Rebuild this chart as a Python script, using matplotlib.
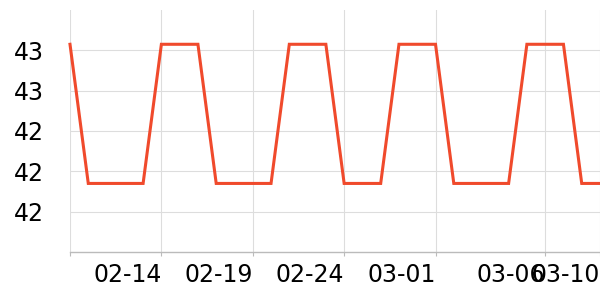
import matplotlib
matplotlib.use("Agg")
import matplotlib.pyplot as plt
from matplotlib.ticker import FormatStrFormatter

# daily values, 02-09 .. 03-10
dates = ["02-09", "02-10", "02-11", "02-12", "02-13", "02-14", "02-15", "02-16",
         "02-17", "02-18", "02-19", "02-20", "02-21", "02-22", "02-23", "02-24",
         "02-25", "02-26", "02-27", "02-28", "03-01", "03-02", "03-03", "03-04",
         "03-05", "03-06", "03-07", "03-08", "03-09", "03-10"]
HI, LO = 42.83, 42.14
values = [HI, LO, LO, LO, LO, HI, HI, HI, LO, LO, LO, LO, HI, HI, HI, LO,
          LO, LO, HI, HI, HI, LO, LO, LO, LO, HI, HI, HI, LO, LO]

tick_idx = [0, 5, 10, 15, 20, 26, 29]
tick_labels = ["", "02-14", "02-19", "02-24", "03-01", "03-06", "03-10"]
y_ticks = [42.0, 42.2, 42.4, 42.6, 42.8]

fig = plt.figure(figsize=(6, 3), dpi=100)
ax = fig.add_axes([70 / 600, 48 / 300, 530 / 600, 242 / 300])

x = list(range(len(dates)))
ax.plot(x, values, color="#f04a2c", lw=2.2, solid_joinstyle="miter", clip_on=False, zorder=3)

ax.set_xlim(0, len(dates) - 1)
ax.set_ylim(41.8, 43.0)
ax.set_xticks(tick_idx)
ax.set_xticklabels(tick_labels, ha="right")
ax.set_yticks(y_ticks)
ax.yaxis.set_major_formatter(FormatStrFormatter("%.0f"))

ax.grid(True, color="#dddddd", lw=0.8)
ax.set_axisbelow(True)
for s in ("top", "right", "left"):
    ax.spines[s].set_visible(False)
ax.spines["bottom"].set_color("#bbbbbb")
ax.spines["bottom"].set_linewidth(1.0)

ax.tick_params(axis="x", length=3, color="#bbbbbb", pad=5, labelsize=17)
ax.tick_params(axis="y", length=0, pad=19, labelsize=17)

fig.savefig("out.png", dpi=100)
